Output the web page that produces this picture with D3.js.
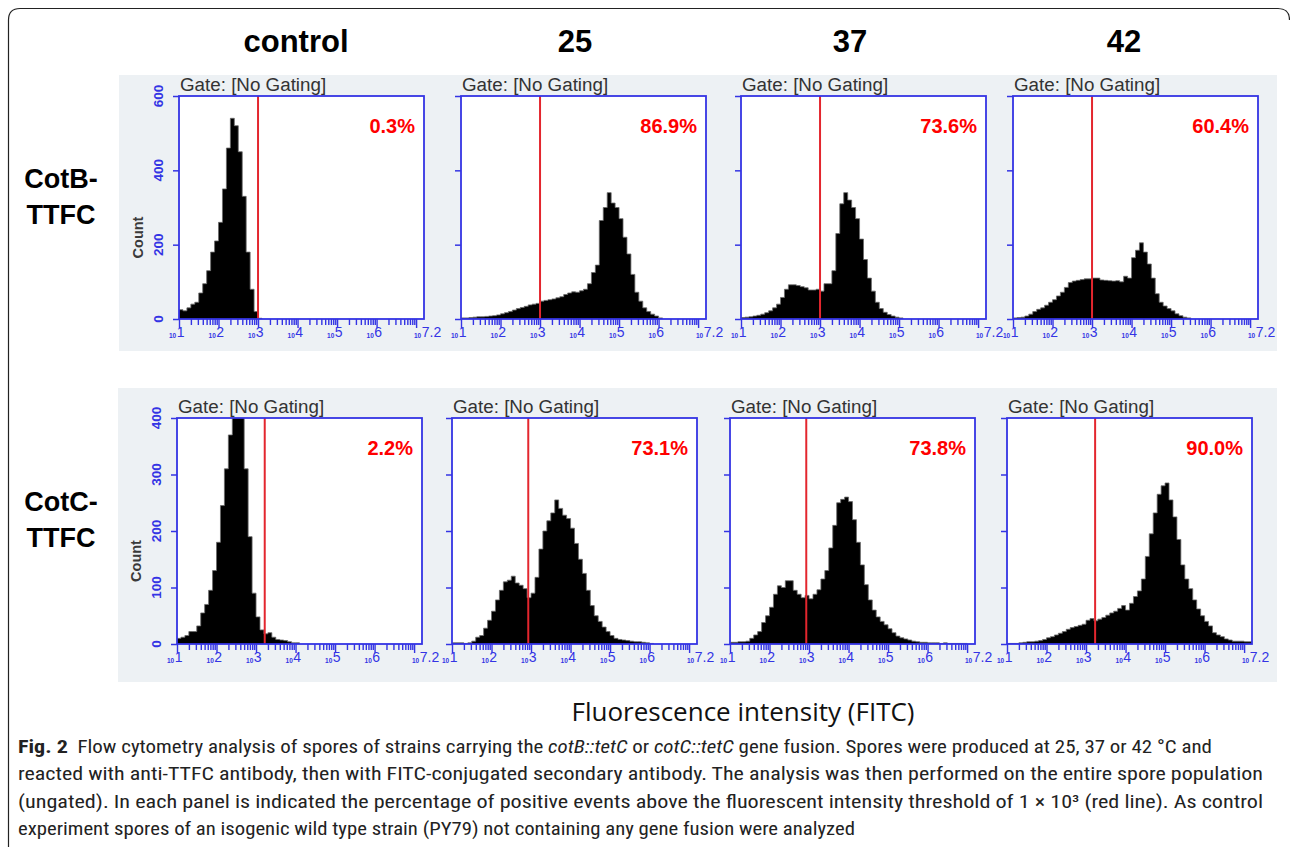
<!DOCTYPE html>
<html>
<head>
<meta charset="utf-8">
<script src="https://cdn.jsdelivr.net/npm/d3@7"></script>
<style>
  body { margin: 0; background: #fff; }
  svg { display: block; }
</style>
</head>
<body>
<div id="chart"></div>
<script>
const width = 1290, height = 847;

// ---- data ----
const temps = ["control", "25", "37", "42"];
const strains = [["CotB-", "TTFC"], ["CotC-", "TTFC"]];
const percents = [["0.3%", "86.9%", "73.6%", "60.4%"], ["2.2%", "73.1%", "73.8%", "90.0%"]];
const yMax = [600, 400];
const yTickStep = [200, 100];
// log10 position of the red threshold line in each panel
const thresholds = [[3, 3, 3, 3], [3.22, 2.93, 2.93, 3.23]];
const xLabelExps = ["1", "2", "3", "4", "5", "6", "7.2"];
const binStart = 1, binWidth = 0.1;   // bins of 0.1 decade from 10^1

// counts per bin
const cotB_control = [25,22,30,40,45,70,95,130,180,210,260,350,460,540,520,450,330,180,80,20,2];
const cotB_25 = [3,3,4,5,6,6,7,8,9,11,14,17,20,24,28,31,34,38,40,42,48,50,52,54,57,60,66,70,73,72,76,80,95,125,145,265,300,340,312,300,270,220,175,120,72,48,30,20,13,8,3];
const cotB_37 = [4,5,6,8,10,13,17,22,30,40,58,80,92,92,90,87,84,78,78,80,75,95,95,130,230,310,340,320,300,270,215,160,110,75,45,28,18,12,8,5,3];
const cotB_42 = [3,4,5,8,13,20,26,30,37,45,52,62,72,85,98,102,104,106,108,108,110,110,105,104,103,102,103,100,115,110,165,185,205,180,148,110,68,45,35,28,22,14,9,5,3];
const cotC_control = [10,12,15,22,22,32,55,70,95,130,180,245,310,370,440,480,430,310,190,90,48,25,18,20,12,8,7,6,4,2,2];
const cotC_25 = [2,2,2,1,2,5,12,15,28,42,58,78,95,110,113,120,108,104,98,82,90,118,168,200,218,232,255,240,228,222,205,178,150,125,95,68,50,40,30,22,15,10,8,7,6,5,4,4,3,2,1];
const cotC_37 = [3,3,4,4,5,10,16,22,38,50,65,88,103,100,112,112,95,88,82,86,80,88,96,115,130,170,210,250,256,260,252,220,180,140,105,78,60,48,40,34,27,20,14,11,9,7,5,4,3,3,2,2,2,1,2,1,1,1,1,1];
const cotC_42 = [1,1,1,2,3,4,4,5,6,8,11,13,16,19,22,26,29,31,33,35,42,45,41,44,47,51,55,58,63,68,60,72,84,94,115,155,195,232,265,280,285,255,225,185,140,115,98,78,62,50,40,32,20,16,13,9,7,5,5,5,4,4];

const hists = [[cotB_control, cotB_25, cotB_37, cotB_42], [cotC_control, cotC_25, cotC_37, cotC_42]];

const captionLines = [
  [["Fig. 2", "bold"], ["  Flow cytometry analysis of spores of strains carrying the ", ""], ["cotB::tetC", "italic"], [" or ", ""], ["cotC::tetC", "italic"], [" gene fusion. Spores were produced at 25, 37 or 42 °C and", ""]],
  [["reacted with anti-TTFC antibody, then with FITC-conjugated secondary antibody. The analysis was then performed on the entire spore population", ""]],
  [["(ungated). In each panel is indicated the percentage of positive events above the fluorescent intensity threshold of 1 × 10³ (red line). As control", ""]],
  [["experiment spores of an isogenic wild type strain (PY79) not containing any gene fusion were analyzed", ""]]
];

// ---- layout ----
const rowTop = [96, 418], rowBase = [319, 644];
const panelLeft = [[179, 461, 741, 1013], [177, 452, 730, 1007]];
const panelW = 245;
const titleX = [296, 575, 850, 1124];
const bgBoxes = [{ x: 119, y: 75, w: 1158, h: 276 }, { x: 118, y: 388, w: 1159, h: 294 }];
const blue = "#3434e4", red = "#e3262e";

let svg = d3.select("#chart").append("svg")
  .attr("width", width).attr("height", height)
  .style("font-family", "Arial, 'Liberation Sans', sans-serif");

// figure frame
svg.append("path")
  .attr("d", "M8.5,847 V20 Q8.5,8.5 20,8.5 H1278 Q1289.5,8.5 1289.5,20")
  .attr("fill", "none").attr("stroke", "#222").attr("stroke-width", 1.2);

// gray plot backgrounds
bgBoxes.forEach(b => {
  svg.append("rect").attr("x", b.x).attr("y", b.y).attr("width", b.w).attr("height", b.h).attr("fill", "#edf1f4");
});

// column titles
temps.forEach((t, i) => {
  svg.append("text").attr("x", titleX[i]).attr("y", 52).attr("text-anchor", "middle")
    .attr("font-size", 31).attr("font-weight", "bold").attr("fill", "#000").text(t);
});

// row labels
strains.forEach((s, ri) => {
  const mid = (rowTop[ri] + rowBase[ri]) / 2;
  s.forEach((line, li) => {
    svg.append("text").attr("x", 61).attr("y", mid - 20 + li * 36).attr("text-anchor", "middle")
      .attr("font-size", 27).attr("font-weight", "bold").attr("fill", "#000").text(line);
  });
});

// minor / major tick values for the log axis
const majors = d3.range(1, 8).map(e => Math.pow(10, e));
const minors = [];
for (let e = 1; e < 7; e++) for (let k = 2; k <= 9; k++) minors.push(k * Math.pow(10, e));

hists.forEach((rowHists, ri) => {
  rowHists.forEach((counts, ci) => {
    const x0 = panelLeft[ri][ci], x1 = x0 + panelW;
    const yTop = rowTop[ri], yBase = rowBase[ri];

    let xScale = d3.scaleLog().domain([10, Math.pow(10, 7.2)]).range([x0, x1]);
    let yScale = d3.scaleLinear().domain([0, yMax[ri]]).range([yBase, yTop]);

    let g = svg.append("g");
    const clipId = "clip-" + ri + "-" + ci;
    g.append("clipPath").attr("id", clipId).append("rect")
      .attr("x", x0).attr("y", yTop).attr("width", panelW).attr("height", yBase - yTop);

    g.append("rect").attr("x", x0).attr("y", yTop).attr("width", panelW).attr("height", yBase - yTop).attr("fill", "#fff");

    // histogram
    let pts = counts.map((c, i) => ({ v: Math.pow(10, binStart + binWidth * i), c: c }));
    pts.push({ v: Math.pow(10, binStart + binWidth * counts.length), c: 0 });

    let area = d3.area()
      .x(d => xScale(d.v)).y0(yBase).y1(d => yScale(d.c))
      .curve(d3.curveStepAfter);
    let line = d3.line()
      .x(d => xScale(d.v)).y(d => yScale(d.c))
      .curve(d3.curveStepAfter);

    let hg = g.append("g").attr("clip-path", "url(#" + clipId + ")");
    hg.append("path").datum(pts).attr("d", area).attr("fill", "#000");
    hg.append("path").datum(pts).attr("d", line).attr("fill", "none").attr("stroke", "#6a6a6a").attr("stroke-width", 0.8);

    // threshold line
    const tx = xScale(Math.pow(10, thresholds[ri][ci]));
    g.append("line").attr("x1", tx).attr("x2", tx).attr("y1", yTop).attr("y2", yBase)
      .attr("stroke", red).attr("stroke-width", 2);

    // frame
    g.append("rect").attr("x", x0).attr("y", yTop).attr("width", panelW).attr("height", yBase - yTop)
      .attr("fill", "none").attr("stroke", blue).attr("stroke-width", 1.8);

    // x axis ticks
    let minorAxis = d3.axisBottom(xScale).tickValues(minors).tickSize(6).tickSizeOuter(0).tickFormat("");
    let majorAxis = d3.axisBottom(xScale).tickValues(majors).tickSize(9).tickSizeOuter(0).tickFormat("");
    [minorAxis, majorAxis].forEach(ax => {
      let a = g.append("g").attr("transform", "translate(0," + yBase + ")").call(ax);
      a.select(".domain").remove();
      a.selectAll("line").attr("stroke", blue).attr("stroke-width", 1.4);
    });

    // x tick labels (10^n)
    xLabelExps.forEach(e => {
      const px = xScale(Math.pow(10, +e));
      let t = g.append("text").attr("x", px - 10).attr("y", yBase + 19).attr("fill", blue);
      t.append("tspan").attr("font-size", 6.5).attr("font-weight", "bold").text("10");
      t.append("tspan").attr("font-size", 14).attr("dx", 0.5).attr("dy", -1).text(e);
    });

    // y axis ticks
    const yTicks = d3.range(0, yMax[ri] + 1, yTickStep[ri]);
    let ya = g.append("g").attr("transform", "translate(" + x0 + ",0)")
      .call(d3.axisLeft(yScale).tickValues(yTicks).tickSize(6).tickSizeOuter(0).tickFormat(""));
    ya.select(".domain").remove();
    ya.selectAll("line").attr("stroke", blue).attr("stroke-width", 1.5);

    if (ci === 0) {
      yTicks.forEach(v => {
        const py = yScale(v);
        g.append("text").attr("transform", "translate(" + (x0 - 16) + "," + py + ") rotate(-90)")
          .attr("text-anchor", "middle").attr("font-size", 13.5).attr("font-weight", "bold")
          .attr("fill", blue).text(v);
      });
      g.append("text").attr("transform", "translate(" + (x0 - 36) + "," + ((yTop + yBase) / 2 + 30) + ") rotate(-90)")
        .attr("text-anchor", "middle").attr("font-size", 14.5).attr("font-weight", "bold")
        .attr("fill", "#3a3a3a").text("Count");
    }

    // gate title
    g.append("text").attr("x", x0 + 1).attr("y", yTop - 5).attr("font-size", 18.8)
      .attr("fill", "#333").text("Gate: [No Gating]");

    // percentage
    g.append("text").attr("x", x1 - 9).attr("y", yTop + 37).attr("text-anchor", "end")
      .attr("font-size", 20).attr("font-weight", "bold").attr("fill", "#ff0000").text(percents[ri][ci]);
  });
});

// x axis title
svg.append("text").attr("x", 743).attr("y", 721).attr("text-anchor", "middle")
  .style("font-family", "'Open Sans', sans-serif").attr("font-size", 26).attr("fill", "#111")
  .text("Fluorescence intensity (FITC)");

// caption
const captionBase = [753, 780, 808, 835];
const captionLen = [1194, 1245, 1245, 837];
captionLines.forEach((parts, i) => {
  let t = svg.append("text").attr("x", 18).attr("y", captionBase[i])
    .style("font-family", "'Liberation Sans Narrow', 'Roboto Condensed', 'DejaVu Sans Condensed', Roboto, sans-serif")
    .attr("font-size", 18).attr("fill", "#222")
    .attr("textLength", captionLen[i]).attr("lengthAdjust", "spacingAndGlyphs")
    .attr("xml:space", "preserve");
  parts.forEach(p => {
    let s = t.append("tspan").text(p[0]);
    if (p[1] === "bold") s.attr("font-weight", "bold").attr("font-size", 19);
    if (p[1] === "italic") s.attr("font-style", "italic");
  });
});
</script>
</body>
</html>
